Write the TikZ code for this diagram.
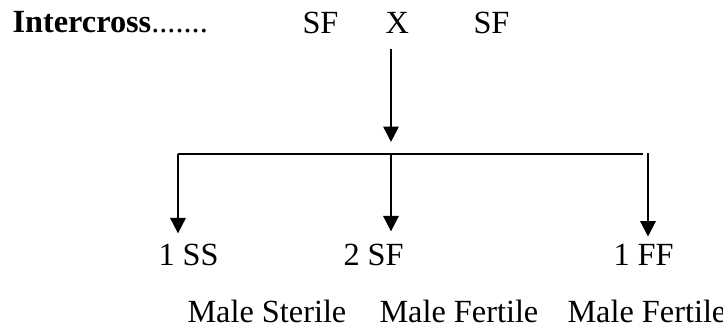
\documentclass[tikz,border=0pt]{standalone}
\usepackage{fontspec}
\setmainfont{Liberation Serif}
\usetikzlibrary{arrows.meta}

\begin{document}
\begin{tikzpicture}[x=0.39pt,y=-0.39pt,
	lbl/.style={anchor=base west,inner sep=0pt,font=\fontsize{12.6}{15}\selectfont},
	arr/.style={line width=0.8pt,-{Triangle[width=6pt,length=6pt]}}]
	\useasboundingbox (0,0) rectangle (723,331);
	% parents
	\node[lbl] (title) at (12,32) {\textbf{Intercross}.......};
	\node[lbl] (sfa) at (302,33) {SF};
	\node[lbl] (cross) at (385,33) {X};
	\node[lbl] (sfb) at (473,33) {SF};
	% offspring
	\node[lbl] (ss) at (158,265) {1 SS};
	\node[lbl] (sf) at (343,265) {2 SF};
	\node[lbl] (ff) at (613,265) {1 FF};
	\node[lbl] (ms) at (187,322) {Male Sterile};
	\node[lbl] (mfa) at (379,322) {Male Fertile};
	\node[lbl] (mfb) at (567,322) {Male Fertile};
	% branch points
	\coordinate (xs) at (391,49);
	\coordinate (jl) at (178,154);
	\coordinate (jm) at (391,154);
	\coordinate (je) at (643,154);
	\coordinate (jr) at (648,153);
	\draw[arr,shorten >=4.7pt] (xs) -- (jm);
	\draw[line width=0.4pt] (jl) -- (je);
	\draw[arr,shorten >=3.8pt] (jl) -- (jl |- ss.north);
	\draw[arr,shorten >=4.6pt] (jm) -- (jm |- sf.north);
	\draw[arr,shorten >=2.6pt] (jr) -- (jr |- ff.north);
\end{tikzpicture}
\end{document}
